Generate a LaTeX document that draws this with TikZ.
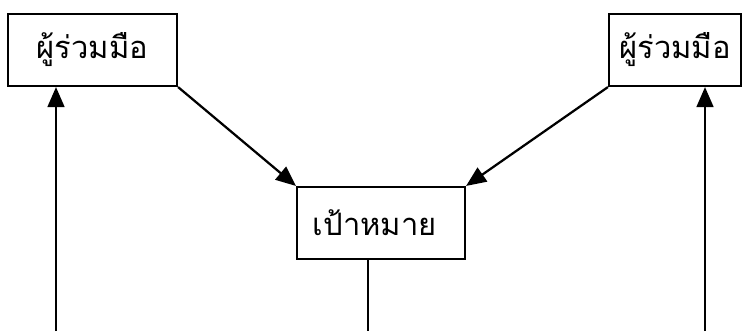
\documentclass[tikz,border=0pt]{standalone}
\usepackage{fontspec}
\newfontfamily\thaifont[Script=Thai]{Loma}
\usetikzlibrary{arrows.meta, positioning}

\tikzset{
    partnerbox/.style={draw, line width=1.5pt, minimum height=1.8cm, inner sep=0pt, font=\thaifont\fontsize{22}{26}\selectfont},
    goalbox/.style={draw, line width=1.5pt, minimum height=1.8cm, text width=3.4cm, align=left, inner xsep=0.4cm, inner ysep=0pt, font=\thaifont\fontsize{22}{26}\selectfont},
    link/.style={line width=1.6pt, -{Triangle[length=0.5cm, width=0.42cm]}}
}

\begin{document}
\begin{tikzpicture}[x=0.025cm, y=-0.025cm]
        \useasboundingbox (0,0) rectangle (742,331);
        % boxes
        \node[partnerbox, minimum width=4.225cm] (lpartner) at (92.5,50) {ผู้ร่วมมือ};
        \node[partnerbox, minimum width=3.3cm] (rpartner) at (675,50) {ผู้ร่วมมือ};
        \node[goalbox] (goal) at (381,223) {เป้าหมาย};
        % feet of the vertical lines
        \coordinate (lfoot) at (56,331);
        \coordinate (cfoot) at (368,331);
        \coordinate (rfoot) at (705,331);
        % connectors
        \draw[link] (lpartner.south east) -- (goal.north west);
        \draw[link] (rpartner.south west) -- (goal.north east);
        \draw[link] (lfoot) -- (lfoot |- lpartner.south);
        \draw[link] (rfoot) -- (rfoot |- rpartner.south);
        \draw[line width=1.3pt] (goal.south -| cfoot) -- (cfoot);
\end{tikzpicture}
\end{document}
